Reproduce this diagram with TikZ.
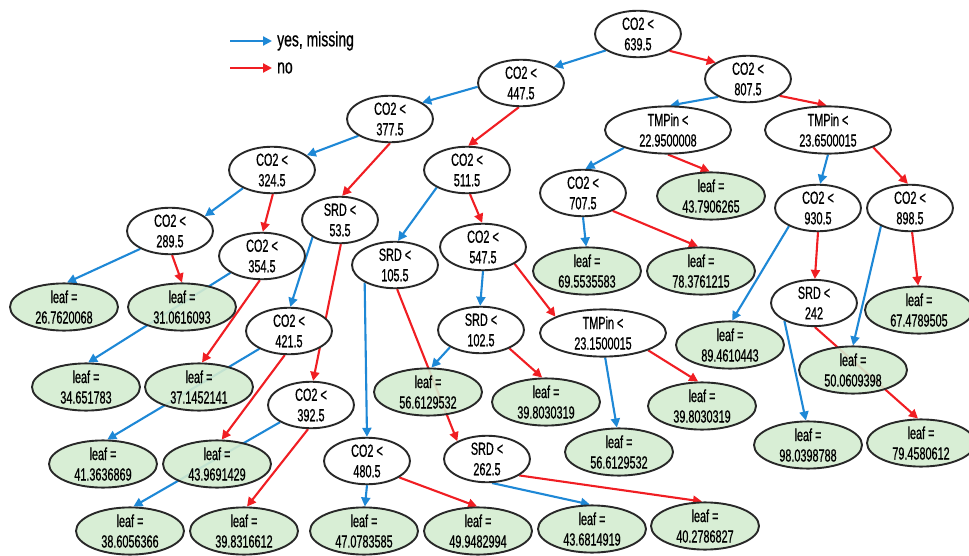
\documentclass[tikz,border=0pt]{standalone}
\usepackage{fontspec}
\setmainfont{Liberation Sans}
\newfontfamily\nodefont{Liberation Sans}[FakeStretch=0.62,FakeBold=0.7]
\newfontfamily\legfont{Liberation Sans}[FakeStretch=0.68,FakeBold=0.7]
\usetikzlibrary{shapes.geometric,arrows.meta,backgrounds}
\definecolor{yescol}{RGB}{30,136,214}
\definecolor{nocol}{RGB}{240,30,35}
\definecolor{leafgreen}{RGB}{212,236,208}
\definecolor{bordercol}{RGB}{40,40,40}
\tikzset{
  split/.style={ellipse, draw=bordercol, line width=1.9pt, fill=white, inner sep=0pt,
    minimum width=86pt, minimum height=45pt, align=center,
    font=\nodefont\fontsize{17.5}{20.5}\selectfont},
  widesplit/.style={split, minimum width=126pt},
  leafnode/.style={split, fill=leafgreen, fill opacity=0.9, text opacity=1, minimum width=108pt},
  yesE/.style={draw=yescol, line width=2.1pt, -{Triangle[length=9pt,width=9pt]}},
  noE/.style={draw=nocol, line width=2.1pt, -{Triangle[length=9pt,width=9pt]}},
  legtext/.style={anchor=west, inner sep=0pt, font=\legfont\fontsize{20.5}{24}\selectfont}
}
\begin{document}
\begin{tikzpicture}[x=1pt,y=-1pt]
\useasboundingbox (0,0) rectangle (969,556);
% legend
\coordinate (ly) at (230,41);
\coordinate (ln) at (230,68);
\node[legtext] (lyt) at (277,41) {yes, missing};
\node[legtext] (lnt) at (277,68) {no};
\draw[yesE] (ly) -- ([xshift=-5pt]lyt.west);
\draw[noE] (ln) -- ([xshift=-5pt]lnt.west);
% internal nodes
\node[split] (R) at (638,34) {CO2 <\\639.5};
\node[split] (n447) at (521,83) {CO2 <\\447.5};
\node[split] (n807) at (748,79) {CO2 <\\807.5};
\node[widesplit] (t2295) at (668,130) {TMPin <\\22.9500008};
\node[widesplit] (t2365) at (828,130) {TMPin <\\23.6500015};
\node[split] (n377) at (390,119) {CO2 <\\377.5};
\node[split] (n324) at (272,170) {CO2 <\\324.5};
\node[split] (n511) at (467,170) {CO2 <\\511.5};
\node[split] (n707) at (583,193) {CO2 <\\707.5};
\node[split] (n930) at (818,208) {CO2 <\\930.5};
\node[split] (n898) at (910,208) {CO2 <\\898.5};
\node[split] (n289) at (170,231) {CO2 <\\289.5};
\node[split] (n354) at (262,256) {CO2 <\\354.5};
\node[split, minimum width=76pt] (s535) at (340,220) {SRD <\\53.5};
\node[split] (s1055) at (395,265) {SRD <\\105.5};
\node[split] (n547) at (483,247) {CO2 <\\547.5};
\node[split] (s242) at (814,303) {SRD <\\242};
\node[split] (n421) at (289,331) {CO2 <\\421.5};
\node[split] (s1025) at (481,330) {SRD <\\102.5};
\node[widesplit] (t2315) at (603,333) {TMPin <\\23.1500015};
\node[split] (n392) at (311,405) {CO2 <\\392.5};
\node[split] (n480) at (367,461) {CO2 <\\480.5};
\node[split] (s2625) at (487,459) {SRD <\\262.5};
% leaves
\node[leafnode] (l4379) at (711,196) {leaf =\\43.7906265};
\node[leafnode] (l2676) at (64,307) {leaf =\\26.7620068};
\node[leafnode] (l3106) at (182,307) {leaf =\\31.0616093};
\node[leafnode] (l6955) at (587,271) {leaf =\\69.5535583};
\node[leafnode] (l7837) at (701,271) {leaf =\\78.3761215};
\node[leafnode] (l6747) at (919,310) {leaf =\\67.4789505};
\node[leafnode] (l8946) at (730,345) {leaf =\\89.4610443};
\node[leafnode] (l5006) at (853,370) {leaf =\\50.0609398};
\node[leafnode] (l3465) at (86,387) {leaf =\\34.651783};
\node[leafnode] (l3714) at (199,387) {leaf =\\37.1452141};
\node[leafnode] (l5661a) at (428,392) {leaf =\\56.6129532};
\node[leafnode] (l3980a) at (546,402) {leaf =\\39.8030319};
\node[leafnode] (l3980b) at (702,406) {leaf =\\39.8030319};
\node[leafnode] (l9803) at (808,445) {leaf =\\98.0398788};
\node[leafnode] (l7945) at (921,443) {leaf =\\79.4580612};
\node[leafnode] (l4136) at (103,464) {leaf =\\41.3636869};
\node[leafnode] (l4396) at (217,464) {leaf =\\43.9691429};
\node[leafnode] (l5661b) at (619,452) {leaf =\\56.6129532};
\node[leafnode] (l3860) at (130,531) {leaf =\\38.6056366};
\node[leafnode] (l3983) at (244,531) {leaf =\\39.8316612};
\node[leafnode] (l4707) at (364,531) {leaf =\\47.0783585};
\node[leafnode] (l4994) at (478,531) {leaf =\\49.9482994};
\node[leafnode] (l4368) at (592,529) {leaf =\\43.6814919};
\node[leafnode] (l4027) at (705,526) {leaf =\\40.2786827};
\begin{pgfonlayer}{background}
\draw[yesE] (R.207) -- (n447.26);
\draw[noE] (R.332) -- (n807.153);
\draw[yesE] (n447.185) -- (n377.27);
\draw[noE] (n447.265) -- (n511.87);
\draw[yesE] (n807.211) -- (t2295.85);
\draw[noE] (n807.332) -- (t2365.93);
\draw[yesE] (n377.208) -- (n324.23);
\draw[noE] (n377.270) -- (s535.85);
\draw[yesE] (n324.212) -- (n289.23);
\draw[noE] (n324.272) -- (n354.88);
\draw[yesE] (n289.211) -- (l2676.83);
\draw[noE] (n289.275) -- (l3106.90);
\draw[yesE] (n354.208) -- (l3465.85);
\draw[noE] (n354.265) -- (l3714.83);
\draw[yesE] (s535.212) -- (n421.87);
\draw[noE] (s535.272) -- (n392.85);
\draw[yesE] (n511.210) -- (s1055.83);
\draw[noE] (n511.277) -- (n547.92);
\draw[yesE] (n547.270) -- (s1025.92);
\draw[noE] (n547.332) -- (t2315.161);
\draw[yesE] (s1055.210) -- (n480.90);
\draw[noE] (s1055.275) -- (s2625.149);
\draw[yesE] (s1025.209) -- (l5661a.82);
\draw[noE] (s1025.327) -- (l3980a.99);
\draw[yesE] (n421.211) -- (l4136.80);
\draw[noE] (n421.260) -- (l4396.79);
\draw[yesE] (n392.209) -- (l3860.82);
\draw[noE] (n392.263) -- (l3983.83);
\draw[yesE] (n480.270) -- (l4707.88);
\draw[noE] (n480.333) -- (l4994.92);
\draw[yesE] (s2625.282) -- (l4368.95);
\draw[noE] (s2625.333) -- (l4027.97);
\draw[yesE] (t2315.275) -- (l5661b.95);
\draw[noE] (t2315.339) -- (l3980b.99);
\draw[yesE] (t2295.202) -- (n707.84);
\draw[noE] (t2295.270) -- (l4379.93);
\draw[yesE] (n707.270) -- (l6955.92);
\draw[noE] (n707.329) -- (l7837.97);
\draw[yesE] (t2365.270) -- (n930.85);
\draw[noE] (t2365.339) -- (n898.95);
\draw[yesE] (n930.212) -- (l8946.85);
\draw[noE] (n930.270) -- (s242.88);
\draw[yesE] (n898.212) -- (l5006.90);
\draw[noE] (n898.275) -- (l6747.92);
\draw[yesE] (s242.211) -- (l9803.95);
\draw[noE] (s242.272) -- (l7945.97);
\end{pgfonlayer}
\end{tikzpicture}
\end{document}
